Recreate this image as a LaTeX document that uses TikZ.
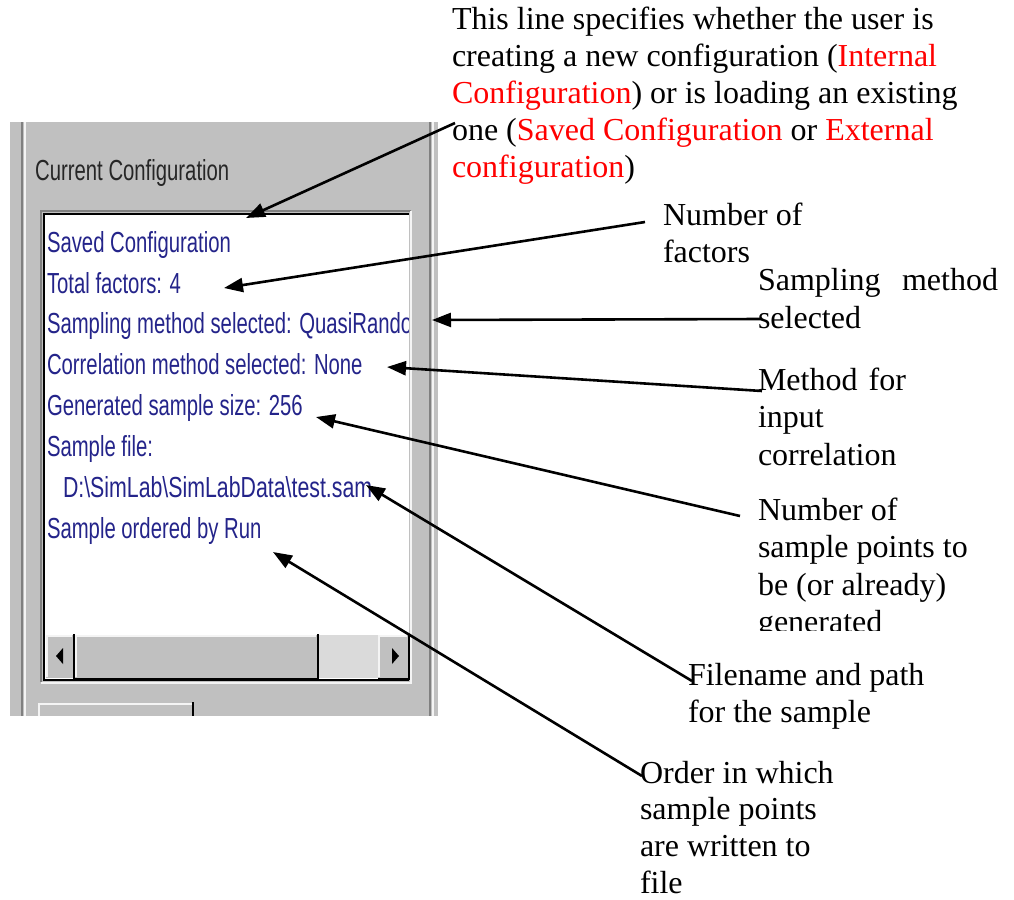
\documentclass[tikz,border=0pt]{standalone}
\usepackage{fontspec}
\setmainfont{Liberation Serif}
\newfontfamily\uifont[FakeStretch=0.70]{Liberation Sans}
\usetikzlibrary{arrows.meta}
\definecolor{panelgray}{HTML}{C0C0C0}
\definecolor{uiblue}{HTML}{24248A}
\definecolor{dkgray}{HTML}{808080}
\definecolor{ltline}{HTML}{F4F4F4}
\definecolor{trackgray}{HTML}{DADADA}
\definecolor{notered}{HTML}{FF0000}
\newcommand{\rd}[1]{\textcolor{notered}{#1}}
\newcommand{\bs}{\textbackslash}
\begin{document}
\begin{tikzpicture}[x=1pt,y=-1pt,
  note/.style={anchor=base west, inner sep=0pt, outer sep=0pt, text=black},
  ui/.style={anchor=base west, inner sep=0pt, outer sep=0pt, text=uiblue,
    font=\uifont\fontsize{29}{41}\selectfont},
  callout/.style={line width=2.6pt, -{Triangle[length=19pt,width=14pt]}},
  hilite/.style={ltline, line width=1.6pt},
  shade/.style={dkgray, line width=1.6pt},
  edge/.style={black, line width=2.4pt}]
\useasboundingbox (0,0) rectangle (1014,899);
\fill[white] (0,0) rectangle (1014,899);

% ---------- screenshot panel ----------
\fill[panelgray] (10,122) rectangle (438,716);
\draw[shade] (22,122) -- (22,716);
\draw[hilite] (25,122) -- (25,716);
\draw[shade] (430,122) -- (430,716);
\draw[hilite] (433,122) -- (433,716);

\node[anchor=base west, inner sep=0pt, text={black!85},
  font=\uifont\fontsize{29}{41}\selectfont] (cur) at (35,180) {Current Configuration};

% list box
\fill[white] (43,213) rectangle (409,680);
\draw[shade] (41,682) -- (41,211) -- (411,211);
\draw[edge] (44,680) -- (44,214) -- (409,214);
\draw[hilite] (411,211) -- (411,683) -- (41,683);

\begin{scope}
\clip (46,216) rectangle (408,632);
\node[ui] (l1) at (47,252) {Saved Configuration};
\node[ui] (l2) at (47,293) {Total factors: 4};
\node[ui] (l3) at (47,333) {Sampling method selected: QuasiRandom};
\node[ui] (l4) at (47,374) {Correlation method selected: None};
\node[ui] (l5) at (47,415) {Generated sample size: 256};
\node[ui] (l6) at (47,456) {Sample file:};
\node[ui, xscale=1.05] (l7) at (63,497) {D:\bs SimLab\bs SimLabData\bs test.sam};
\node[ui] (l8) at (47,538) {Sample ordered by Run};
\end{scope}

% horizontal scrollbar
\draw[edge] (44,634) -- (44,680) -- (409,680);
% left button
\fill[panelgray] (46,635) rectangle (73,678);
\draw[hilite] (47,677) -- (47,636) -- (72,636);
\draw[edge] (74,634) -- (74,679);
\fill[black] (56,656) -- (63,648) -- (63,664) -- cycle;
% thumb
\fill[panelgray] (75,635) rectangle (317,678);
\draw[hilite] (76,677) -- (76,636) -- (316,636);
\draw[edge] (75,679) -- (318,679) -- (318,634);
% track
\fill[trackgray] (319,635) rectangle (378,678);
% right button
\fill[panelgray] (378,635) rectangle (408,678);
\draw[hilite] (379,677) -- (379,636) -- (407,636);
\draw[edge] (378,679) -- (409,679) -- (409,634);
\fill[black] (399,656) -- (392,648) -- (392,664) -- cycle;

% button below
\fill[panelgray] (38,703) rectangle (193,716);
\draw[hilite] (39,716) -- (39,704) -- (192,704);
\draw[edge] (193,702) -- (193,716);

% ---------- annotations ----------
\node[note] (n1) at (452,30) {\parbox[t]{560pt}{\fontsize{32}{36.8}\selectfont\raggedright
This line specifies whether the user is\\
creating a new configuration (\rd{Internal}\\
\rd{Configuration}) or is loading an existing\\
one (\rd{Saved Configuration} or \rd{External}\\
\rd{configuration})}};

\node[note] (n2) at (663,225) {\parbox[t]{200pt}{\fontsize{32}{37}\selectfont\raggedright
Number of\\factors}};

\node[note] (n3) at (758,290) {\parbox[t]{250pt}{\fontsize{32}{38}\selectfont\raggedright
\makebox[240pt][s]{Sampling method}\\selected}};

\node[note] (n4) at (758,390) {\parbox[t]{250pt}{\fontsize{32}{37.5}\selectfont\raggedright
\makebox[148pt][s]{Method for}\\input\\correlation}};

\begin{scope}
\clip (700,480) rectangle (1014,630);
\node[note] (n5) at (758,520) {\parbox[t]{250pt}{\fontsize{32}{37.5}\selectfont\raggedright
Number of\\sample points to\\be (or already)\\generated}};
\end{scope}

\node[note] (n6) at (688,685) {\parbox[t]{300pt}{\fontsize{32}{37}\selectfont\raggedright
Filename and path\\for the sample}};

\node[note] (n7) at (640,783) {\parbox[t]{300pt}{\fontsize{32}{36.7}\selectfont\raggedright
Order in which\\sample points\\are written to\\file}};

% connector end points
\coordinate (s1) at (455,123); \coordinate (t1) at (246,218);
\coordinate (s2) at (645,222); \coordinate (t2) at (224,288);
\coordinate (s3) at (762,319); \coordinate (t3) at (432,320);
\coordinate (s4) at (762,391); \coordinate (t4) at (387,367);
\coordinate (s5) at (740,516); \coordinate (t5) at (316,417);
\coordinate (s6) at (692,681); \coordinate (t6) at (366,485);
\coordinate (s7) at (642,776); \coordinate (t7) at (273,552);

\foreach \i in {1,...,7} \draw[callout] (s\i) -- (t\i);
\end{tikzpicture}
\end{document}
